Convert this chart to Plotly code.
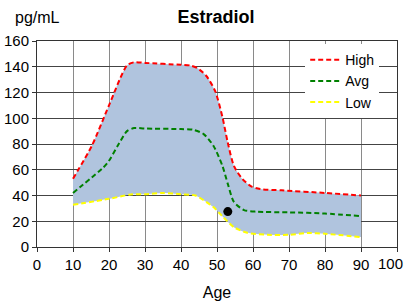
import plotly.graph_objects as go

ages_high = [10, 15.3, 20, 25, 27, 30, 40, 42.5, 44.5, 47, 49.5, 51.5, 53, 54.7, 57, 59.5, 62, 68, 80, 90]
high = [53, 79, 110, 141, 143.5, 143, 141.5, 141, 139, 133, 121, 101, 81, 63, 53, 47, 45, 44, 42, 40]

ages_avg = [10, 18.5, 20, 22.5, 25, 27, 30, 40, 43.5, 46.3, 49, 51.5, 53, 54.7, 57.5, 61, 70, 80, 90]
avg = [42, 62, 67, 79, 90, 92.4, 92, 91.6, 91, 87.7, 78.7, 63, 49, 35, 28.7, 27.4, 26.9, 26, 24]

ages_low = [10, 20, 26, 30, 35, 40, 44, 47, 49, 51.8, 54.7, 58.4, 64, 70, 75, 80, 90]
low = [32.8, 37.4, 40.8, 41, 42, 41, 40, 35, 31, 23, 15.4, 11, 9.5, 9.5, 10.8, 10.3, 7.7]

point_age = [53]
point_val = [27.5]

x_ticks = [0, 10, 20, 30, 40, 50, 60, 70, 80, 90, 100]
x_ticktext = ["0", "10", "20", "30", "40", "50", "60", "70", "80", "90", ""]
y_ticks = [0, 20, 40, 60, 80, 100, 120, 140, 160]

SM = 0.7
fig = go.Figure()
# fill band
fig.add_trace(go.Scatter(x=ages_low, y=low, mode="lines", line=dict(color="rgba(0,0,0,0)", width=0, shape="spline", smoothing=SM),
                         showlegend=False, hoverinfo="skip"))
fig.add_trace(go.Scatter(x=ages_high, y=high, mode="lines", line=dict(color="rgba(0,0,0,0)", width=0, shape="spline", smoothing=SM),
                         fill="tonexty", fillcolor="#B0C4DE", showlegend=False, hoverinfo="skip"))

dash = "5px,3px"
fig.add_trace(go.Scatter(x=ages_high, y=high, mode="lines", name="High",
                         line=dict(color="#FF0000", width=2, dash=dash, shape="spline", smoothing=SM)))
fig.add_trace(go.Scatter(x=ages_avg, y=avg, mode="lines", name="Avg",
                         line=dict(color="#008000", width=2, dash=dash, shape="spline", smoothing=SM)))
fig.add_trace(go.Scatter(x=ages_low, y=low, mode="lines", name="Low",
                         line=dict(color="#FFFF00", width=2, dash=dash, shape="spline", smoothing=SM)))
fig.add_trace(go.Scatter(x=point_age, y=point_val, mode="markers", showlegend=False,
                         marker=dict(color="black", size=9)))

font = "Liberation Sans, Arial, sans-serif"
fig.update_layout(
    width=406, height=306,
    margin=dict(l=37, r=9, t=41, b=59, autoexpand=False),
    paper_bgcolor="white", plot_bgcolor="white",
    font=dict(family=font, size=15, color="black"),
    title=dict(text="<b>Estradiol</b>", x=216/406, xanchor="center", y=1 - 17/306, yanchor="middle",
               font=dict(size=18, family=font, color="black")),
    showlegend=True,
    legend=dict(x=0.745, y=0.985, xanchor="left", yanchor="top", bgcolor="white", traceorder="normal",
                font=dict(size=14, family=font), itemwidth=30, tracegroupgap=0),
    xaxis=dict(range=[0, 100], tickmode="array", tickvals=x_ticks, ticktext=x_ticktext,
               showgrid=True, gridcolor="#8a8a8a", gridwidth=1,
               showline=True, linecolor="#333333", mirror=True, ticks="outside", ticklen=4,
               tickcolor="#333333", zeroline=False, automargin=False, ticklabeloverflow="allow",
               title=dict(text="Age", font=dict(size=16, family=font), standoff=14),
               tickfont=dict(size=15, family=font)),
    yaxis=dict(range=[0, 160], tickmode="array", tickvals=y_ticks, showgrid=True, gridcolor="#444444", gridwidth=1,
               showline=True, linecolor="#333333", mirror=True, ticks="outside", ticklen=4,
               tickcolor="#333333", zeroline=False, automargin=False, ticklabeloverflow="allow",
               tickfont=dict(size=15, family=font)),
    annotations=[
        dict(text="pg/mL", xref="paper", yref="paper", x=-0.068, y=1 + 24/206, xanchor="left",
             yanchor="middle", showarrow=False, font=dict(size=16, family=font)),
        dict(text=str(x_ticks[-1]), xref="paper", yref="paper", x=1 + 8/360, y=-16/206, xanchor="right",
             yanchor="middle", showarrow=False, font=dict(size=15, family=font)),
    ],
)

fig.write_html("out.html", config={"displayModeBar": False},
               post_script="document.body.style.margin='0px';document.body.style.overflow='hidden';")
